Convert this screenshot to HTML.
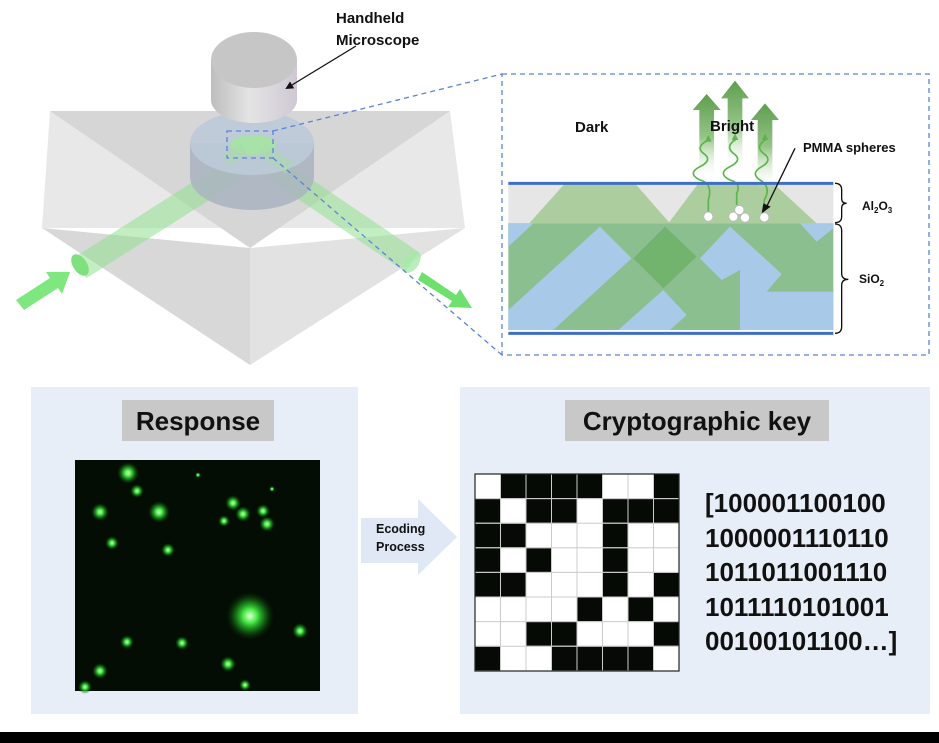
<!DOCTYPE html>
<html><head><meta charset="utf-8"><style>
html,body{margin:0;padding:0;background:#fff;}
svg{display:block;font-family:"Liberation Sans",Arial,sans-serif;}
</style></head><body>
<svg width="939" height="743" viewBox="0 0 939 743" xmlns="http://www.w3.org/2000/svg">
<defs>
<linearGradient id="cyl" x1="0" x2="1" y1="0" y2="0">
<stop offset="0" stop-color="#bdbdbd"/><stop offset="0.45" stop-color="#e4e4e4"/><stop offset="1" stop-color="#cfc8d4"/>
</linearGradient>
<linearGradient id="up" x1="0" x2="0" y1="0" y2="1">
<stop offset="0" stop-color="#5e9e4e"/><stop offset="0.5" stop-color="#94c487"/><stop offset="1" stop-color="#ffffff" stop-opacity="0"/>
</linearGradient>
<radialGradient id="spot"><stop offset="0" stop-color="#e8ffd8"/><stop offset="0.3" stop-color="#44e844"/><stop offset="0.6" stop-color="#1d9a1d" stop-opacity="0.7"/><stop offset="1" stop-color="#0a3a0a" stop-opacity="0"/></radialGradient>
<marker id="ah" markerWidth="8" markerHeight="8" refX="6" refY="4" orient="auto" markerUnits="userSpaceOnUse"><path d="M0,0 L8,4 L0,8 z" fill="#111"/></marker>
</defs>

<!-- prism -->
<polygon points="50,111 450,111 465,228 42,228" fill="#e8e8e8"/>
<polygon points="50,111 450,111 250,248" fill="#d6d6d6"/>
<polygon points="42,228 250,248 250,365" fill="#d8d8d8"/>
<polygon points="465,228 250,248 250,365" fill="#e2e2e2"/>

<!-- beams -->
<line x1="80" y1="268" x2="245" y2="163" stroke="#8fe08f" stroke-opacity="0.55" stroke-width="24"/>
<line x1="262" y1="160" x2="412" y2="262" stroke="#8fe08f" stroke-opacity="0.55" stroke-width="24"/>
<ellipse cx="80" cy="265" rx="7" ry="12" transform="rotate(-33 80 265)" fill="#7ee07e"/>
<ellipse cx="412" cy="262" rx="7" ry="12" transform="rotate(33 412 262)" fill="#a8e8a8" fill-opacity="0.8"/>
<polygon points="16,300 50,278 46,272 70,272 62,294 58,288 24,310" fill="#7ee87e"/>
<polygon points="422,272 456,295 460,289 472,308 448,307 452,301 418,280" fill="#6ee06e"/>

<!-- lens disk -->
<path d="M190,143 L190,177 A62,33 0 0 0 314,177 L314,143 Z" fill="#a9b4c0" fill-opacity="0.85"/>
<ellipse cx="252" cy="143" rx="62" ry="32" fill="#bccad8" fill-opacity="0.9"/>
<ellipse cx="253" cy="145" rx="23" ry="10" fill="#a8e2a8"/>
<line x1="225" y1="160" x2="245" y2="150" stroke="#a8dca8" stroke-width="14" stroke-opacity="0.5"/>
<line x1="262" y1="150" x2="290" y2="168" stroke="#a8dca8" stroke-width="14" stroke-opacity="0.5"/>

<!-- microscope -->
<path d="M211,60 L211,100 A43,23 0 0 0 297,100 L297,60 Z" fill="url(#cyl)"/>
<ellipse cx="254" cy="60" rx="43" ry="28" fill="#c6c6c6"/>

<g stroke="#5b84d6" stroke-width="1.3" stroke-dasharray="5,4" fill="none">
<rect x="227" y="131" width="46" height="27"/>
<line x1="273" y1="131" x2="502" y2="74"/>
<line x1="273" y1="158" x2="502" y2="355"/>
<rect x="502" y="74" width="427" height="281"/>
</g>

<text x="336" y="23" font-size="15" font-weight="bold" fill="#111">Handheld</text>
<text x="336" y="45" font-size="15" font-weight="bold" fill="#111">Microscope</text>
<line x1="356" y1="46" x2="287" y2="88" stroke="#111" stroke-width="1.3" marker-end="url(#ah)"/>

<!-- inset -->
<g transform="translate(500,70) scale(0.33333)">
<rect x="25" y="340" width="975" height="120" fill="#e6e6e6"/>
<polygon points="195,340 405,340 510,460 25,460 25,530" fill="#9dc78c" fill-opacity="0.8"/>
<polygon points="595,340 820,340 950,460 505,460" fill="#9dc78c" fill-opacity="0.8"/>
<rect x="25" y="460" width="975" height="320" fill="#8cbf90"/>
<polygon points="25,460 100,460 25,530" fill="#a9c9e8"/>
<polygon points="25,720 300,470 395,565 160,780 25,780" fill="#a9c9e8"/>
<polygon points="355,780 490,660 560,735 510,780" fill="#a9c9e8"/>
<polygon points="600,565 690,470 845,612 800,665 1000,665 1000,780 720,780 720,600 665,630" fill="#a9c9e8"/>
<polygon points="900,460 1000,460 1000,475 950,515" fill="#a9c9e8"/>
<polygon points="400,565 495,470 590,560 490,655" fill="#72b36e"/>
<polygon points="598,330 598,120 578,120 620,72 662,120 642,120 642,330" fill="url(#up)"/>
<polygon points="683,300 683,85 663,85 705,32 747,85 727,85 727,300" fill="url(#up)"/>
<polygon points="773,360 773,150 753,150 795,100 837,150 817,150 817,360" fill="url(#up)"/>
<g stroke="#5bb54a" stroke-width="5" fill="none">
<path d="M625,425 L625,390 Q640,340 600,330 Q560,310 600,290 Q640,270 610,250 Q585,230 625,210 L625,200"/>
<path d="M710,405 L710,370 Q725,340 690,330 Q650,310 690,290 Q730,270 700,250 Q675,230 705,210 L705,195"/>
<path d="M793,425 L793,390 Q815,350 780,330 Q750,310 785,290 Q820,270 790,250 Q765,230 795,210 L795,195"/>
</g>
<g fill="#5bb54a"><polygon points="615,215 625,195 635,215"/><polygon points="695,210 705,190 715,210"/><polygon points="785,210 795,190 805,210"/></g>
<g fill="#fff" stroke="#bbb" stroke-width="3">
<circle cx="625" cy="440" r="14"/><circle cx="700" cy="440" r="14"/><circle cx="735" cy="443" r="14"/><circle cx="718" cy="420" r="14"/><circle cx="793" cy="442" r="14"/>
</g>
<line x1="25" y1="340" x2="1000" y2="340" stroke="#3f6fc4" stroke-width="9"/>
<line x1="25" y1="790" x2="1000" y2="790" stroke="#3f6fc4" stroke-width="9"/>
<line x1="885" y1="235" x2="795" y2="420" stroke="#111" stroke-width="4"/>
<polygon points="785,430 790,400 812,410" fill="#111"/>
<path d="M1005,340 Q1025,340 1025,360 L1025,385 Q1025,400 1040,400 Q1025,400 1025,415 L1025,440 Q1025,458 1005,458" stroke="#111" stroke-width="4" fill="none"/>
<path d="M1005,462 Q1025,462 1025,482 L1025,610 Q1025,628 1045,628 Q1025,628 1025,646 L1025,770 Q1025,790 1005,790" stroke="#111" stroke-width="4" fill="none"/>
</g>
<text x="575" y="132" font-size="15" font-weight="bold" fill="#111">Dark</text>
<text x="710" y="131" font-size="15" font-weight="bold" fill="#111">Bright</text>
<text x="803" y="152" font-size="13" font-weight="bold" fill="#111">PMMA spheres</text>
<text x="862" y="210" font-size="12" font-weight="bold" fill="#111">Al<tspan font-size="8" dy="3">2</tspan><tspan dy="-3">O</tspan><tspan font-size="8" dy="3">3</tspan></text>
<text x="859" y="283" font-size="12" font-weight="bold" fill="#111">SiO<tspan font-size="8" dy="3">2</tspan></text>

<!-- bottom panels -->
<rect x="31" y="387" width="327" height="327" fill="#e8eef7"/>
<rect x="460" y="387" width="470" height="327" fill="#e8eef7"/>
<polygon points="361,518 418,518 418,499 457,537 418,575 418,563 361,563" fill="#dfe8f4"/>
<text x="376" y="533" font-size="12.5" font-weight="bold" fill="#111">Ecoding</text>
<text x="376" y="551" font-size="12.5" font-weight="bold" fill="#111">Process</text>

<rect x="122" y="400" width="152" height="41" fill="#c8c8c8"/>
<text x="198" y="430" font-size="26" font-weight="bold" fill="#111" text-anchor="middle">Response</text>
<rect x="565" y="400" width="264" height="41" fill="#c8c8c8"/>
<text x="697" y="430" font-size="26" font-weight="bold" fill="#111" text-anchor="middle">Cryptographic key</text>

<rect x="75" y="460" width="245" height="231" fill="#040d04"/>
<g fill="url(#spot)">
<circle cx="128" cy="473" r="11"/><circle cx="137" cy="491" r="7"/><circle cx="100" cy="512" r="9"/><circle cx="159" cy="512" r="11"/>
<circle cx="233" cy="503" r="8"/><circle cx="243" cy="514" r="8"/><circle cx="263" cy="511" r="7"/><circle cx="267" cy="524" r="8"/>
<circle cx="224" cy="521" r="6"/><circle cx="112" cy="543" r="7"/><circle cx="168" cy="550" r="7"/><circle cx="250" cy="616" r="24"/>
<circle cx="300" cy="631" r="8"/><circle cx="127" cy="642" r="7"/><circle cx="182" cy="643" r="7"/><circle cx="228" cy="664" r="8"/>
<circle cx="100" cy="671" r="8"/><circle cx="245" cy="685" r="6"/><circle cx="85" cy="687" r="7"/><circle cx="198" cy="475" r="3"/><circle cx="272" cy="489" r="3"/>
</g>

<g transform="translate(475,474)">
<rect width="204" height="197" fill="#fff" stroke="#222" stroke-width="1"/>
<g fill="#050a05" stroke="#bbb" stroke-width="1">
<rect x="25.5" y="0" width="25.5" height="24.6"/><rect x="51" y="0" width="25.5" height="24.6"/><rect x="76.5" y="0" width="25.5" height="24.6"/><rect x="102" y="0" width="25.5" height="24.6"/><rect x="178.5" y="0" width="25.5" height="24.6"/>
<rect x="0" y="24.6" width="25.5" height="24.6"/><rect x="51" y="24.6" width="25.5" height="24.6"/><rect x="76.5" y="24.6" width="25.5" height="24.6"/><rect x="127.5" y="24.6" width="25.5" height="24.6"/><rect x="153" y="24.6" width="25.5" height="24.6"/><rect x="178.5" y="24.6" width="25.5" height="24.6"/>
<rect x="0" y="49.2" width="25.5" height="24.6"/><rect x="25.5" y="49.2" width="25.5" height="24.6"/><rect x="127.5" y="49.2" width="25.5" height="24.6"/>
<rect x="0" y="73.8" width="25.5" height="24.6"/><rect x="51" y="73.8" width="25.5" height="24.6"/><rect x="127.5" y="73.8" width="25.5" height="24.6"/>
<rect x="0" y="98.4" width="25.5" height="24.6"/><rect x="25.5" y="98.4" width="25.5" height="24.6"/><rect x="127.5" y="98.4" width="25.5" height="24.6"/><rect x="178.5" y="98.4" width="25.5" height="24.6"/>
<rect x="102" y="123" width="25.5" height="24.6"/><rect x="153" y="123" width="25.5" height="24.6"/>
<rect x="51" y="147.6" width="25.5" height="24.6"/><rect x="76.5" y="147.6" width="25.5" height="24.6"/><rect x="178.5" y="147.6" width="25.5" height="24.6"/>
<rect x="0" y="172.2" width="25.5" height="24.6"/><rect x="76.5" y="172.2" width="25.5" height="24.6"/><rect x="102" y="172.2" width="25.5" height="24.6"/><rect x="127.5" y="172.2" width="25.5" height="24.6"/><rect x="153" y="172.2" width="25.5" height="24.6"/>
</g>
<g stroke="#ccc" stroke-width="1">
<line x1="25.5" y1="0" x2="25.5" y2="197"/><line x1="51" y1="0" x2="51" y2="197"/><line x1="76.5" y1="0" x2="76.5" y2="197"/><line x1="102" y1="0" x2="102" y2="197"/><line x1="127.5" y1="0" x2="127.5" y2="197"/><line x1="153" y1="0" x2="153" y2="197"/><line x1="178.5" y1="0" x2="178.5" y2="197"/>
<line x1="0" y1="24.6" x2="204" y2="24.6"/><line x1="0" y1="49.2" x2="204" y2="49.2"/><line x1="0" y1="73.8" x2="204" y2="73.8"/><line x1="0" y1="98.4" x2="204" y2="98.4"/><line x1="0" y1="123" x2="204" y2="123"/><line x1="0" y1="147.6" x2="204" y2="147.6"/><line x1="0" y1="172.2" x2="204" y2="172.2"/>
</g>
<rect width="204" height="197" fill="none" stroke="#222" stroke-width="1.2"/>
</g>

<g font-size="26" font-weight="bold" fill="#111">
<text x="705" y="512">[100001100100</text>
<text x="705" y="547">1000001110110</text>
<text x="705" y="581">1011011001110</text>
<text x="705" y="616">1011110101001</text>
<text x="705" y="650">00100101100…]</text>
</g>

<rect x="0" y="732" width="939" height="11" fill="#000"/>
</svg>
</body></html>
